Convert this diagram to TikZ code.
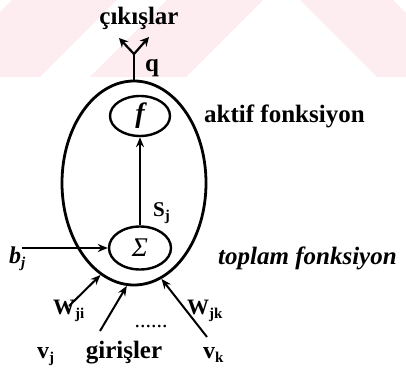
\documentclass[tikz,border=0pt]{standalone}
\usepackage{fontspec}
\usepackage{graphicx}
\setmainfont{Liberation Serif}
\usetikzlibrary{shapes.geometric,arrows.meta}
\definecolor{pinkwm}{RGB}{253,236,240}
\newcommand{\lowidx}[1]{\raisebox{-4pt}{\fontsize{15}{15}\selectfont #1}}
\begin{document}
\begin{tikzpicture}[x=1pt,y=-1pt,
  lbl/.style={inner sep=0pt, font=\fontsize{25}{25}\selectfont\bfseries},
  ring/.style={draw, ellipse, line width=2.4pt, inner sep=0pt},
  conn/.style={line width=2pt, -{Stealth[length=10pt,width=8pt]}},
  wm/.style={fill=pinkwm, draw=none}]
\useasboundingbox (0,0) rectangle (406,371);
% watermark
\fill[wm] (12,0) -- (117,0) -- (40,77) -- (0,77) -- (0,12) -- cycle;
\fill[wm] (167,0) -- (263,0) -- (186,77) -- (90,77) -- cycle;
\fill[wm] (300,0) -- (393,0) -- (406,13) -- (406,77) -- (377,77) -- cycle;
% nodes
\node[ring, line width=2.8pt, minimum width=144pt, minimum height=204pt] (cell) at (134,183) {};
\node[ring, minimum width=60pt, minimum height=40pt] (fn) at (140,116) {\fontsize{28}{28}\selectfont\bfseries\itshape f};
\node[ring, minimum width=62pt, minimum height=43pt] (sig) at (140,248) {\raisebox{-6pt}{\fontsize{27}{27}\selectfont\itshape Σ}};
% connectors
\draw[conn] (sig.north) -- (fn.south);
\coordinate (bstart) at (22,248);
\draw[conn] (bstart) -- (sig.west);
\coordinate (branch) at (134,54);
\coordinate (outL) at (119,38);
\coordinate (outR) at (149,37);
\draw[line width=2pt] (cell.north) -- (branch);
\draw[line width=2.2pt, -{Stealth[length=9pt,width=9pt]}] (branch) -- (outL);
\draw[line width=2.2pt, -{Stealth[length=9pt,width=9pt]}] (branch) -- (outR);
\coordinate (inL) at (69,306);
\coordinate (inM) at (100,331);
\coordinate (inK) at (207,337);
\draw[conn] (inL) -- (cell.250);
\draw[conn] (inM) -- (cell.266);
\draw[conn] (inK) -- (cell.286);
% labels
\node[lbl, anchor=base] (outlbl) at (139,25) {çıkışlar};
\node[lbl, anchor=base] (qlbl) at (152,72) {q};
\node[lbl, anchor=base west] (akt) at (204,123) {aktif fonksiyon};
\node[lbl, font=\fontsize{25}{25}\selectfont\bfseries\itshape, anchor=base west] (topl) at (218,264) {toplam fonksiyon};
\node[lbl, font=\fontsize{21}{21}\selectfont\bfseries, anchor=base west] (sj) at (153,216) {S\lowidx{j}};
\node[lbl, font=\fontsize{24}{24}\selectfont\bfseries\itshape, anchor=base west] (bj) at (9,263) {b\lowidx{j}};
\node[lbl, font=\fontsize{22}{22}\selectfont\bfseries, anchor=base west] (wji) at (53,314) {W\lowidx{ji}};
\node[lbl, font=\fontsize{22}{22}\selectfont\bfseries, anchor=base west] (wjk) at (187,314) {W\lowidx{jk}};
\node[lbl, font=\fontsize{22}{22}\selectfont, anchor=base] (dots) at (151,327) {......};
\node[lbl, font=\fontsize{24}{24}\selectfont\bfseries, anchor=base west] (vj) at (37,358) {v\lowidx{j}};
\node[lbl, anchor=base] (gir) at (124,358) {girişler};
\node[lbl, font=\fontsize{24}{24}\selectfont\bfseries, anchor=base west] (vk) at (203,358) {v\lowidx{k}};
\end{tikzpicture}
\end{document}
